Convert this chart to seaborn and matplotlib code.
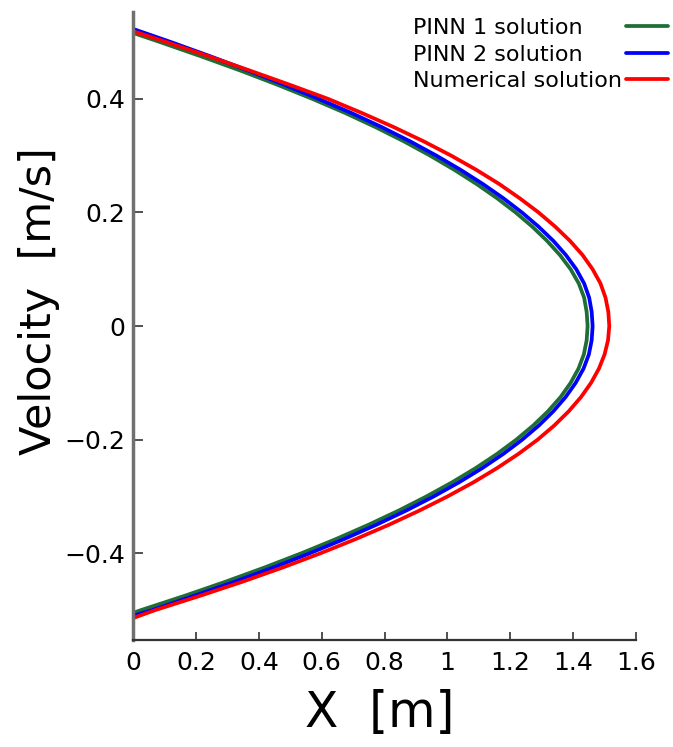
import numpy as np
import pandas as pd
import matplotlib
matplotlib.use('Agg')
import matplotlib.pyplot as plt
import seaborn as sns

# velocity samples (y axis) and X positions (x axis)
vel_pinn1 = [0.516, 0.5, 0.475, 0.45, 0.425, 0.4, 0.375, 0.35, 0.325, 0.3, 0.275,
             0.25, 0.225, 0.2, 0.175, 0.15, 0.125, 0.1, 0.075, 0.05, 0.025, 0.0,
             -0.025, -0.05, -0.075, -0.1, -0.125, -0.15, -0.175, -0.2, -0.225,
             -0.25, -0.275, -0.3, -0.325, -0.35, -0.375, -0.4, -0.425, -0.45,
             -0.475, -0.5, -0.505]
x_pinn1 = [0.0, 0.085, 0.215, 0.34, 0.458, 0.57, 0.675, 0.772, 0.862, 0.945, 1.022,
           1.093, 1.158, 1.217, 1.27, 1.317, 1.358, 1.392, 1.418, 1.435, 1.443, 1.446,
           1.443, 1.434, 1.417, 1.392, 1.36, 1.32, 1.273, 1.219, 1.158,
           1.09, 1.015, 0.933, 0.844, 0.748, 0.645, 0.535, 0.418, 0.294,
           0.163, 0.025, 0.0]

vel_pinn2 = [0.523, 0.5, 0.475, 0.45, 0.425, 0.4, 0.375, 0.35, 0.325, 0.3, 0.275,
             0.25, 0.225, 0.2, 0.175, 0.15, 0.125, 0.1, 0.075, 0.05, 0.025, 0.0,
             -0.025, -0.05, -0.075, -0.1, -0.125, -0.15, -0.175, -0.2, -0.225,
             -0.25, -0.275, -0.3, -0.325, -0.35, -0.375, -0.4, -0.425, -0.45,
             -0.475, -0.5, -0.510]
x_pinn2 = [0.0, 0.12, 0.245, 0.365, 0.48, 0.59, 0.695, 0.792, 0.882, 0.965, 1.042,
           1.113, 1.178, 1.237, 1.29, 1.337, 1.377, 1.41, 1.435, 1.451, 1.459, 1.462,
           1.459, 1.45, 1.433, 1.408, 1.376, 1.337, 1.291, 1.238, 1.178,
           1.111, 1.037, 0.956, 0.868, 0.773, 0.671, 0.562, 0.446, 0.323,
           0.193, 0.06, 0.0]

vel_num = [0.519, 0.5, 0.475, 0.45, 0.425, 0.4, 0.375, 0.35, 0.325, 0.3, 0.275,
           0.25, 0.225, 0.2, 0.175, 0.15, 0.125, 0.1, 0.075, 0.05, 0.025, 0.0,
           -0.025, -0.05, -0.075, -0.1, -0.125, -0.15, -0.175, -0.2, -0.225,
           -0.25, -0.275, -0.3, -0.325, -0.35, -0.375, -0.4, -0.425, -0.45,
           -0.475, -0.5, -0.514]
x_num = [0.0, 0.105, 0.24, 0.37, 0.497, 0.62, 0.728, 0.83, 0.925, 1.012, 1.092,
         1.165, 1.23, 1.29, 1.343, 1.39, 1.43, 1.462, 1.487, 1.503, 1.512, 1.515,
         1.511, 1.50, 1.482, 1.457, 1.425, 1.386, 1.34, 1.287, 1.226,
         1.158, 1.083, 1.0, 0.91, 0.813, 0.708, 0.596, 0.476, 0.348,
         0.212, 0.07, 0.0]

series_names = ['PINN 1 solution', 'PINN 2 solution', 'Numerical solution']
series_colors = ['#1f6e35', '#0000ff', '#ff0000']

x_ticks = [0, 0.2, 0.4, 0.6, 0.8, 1.0, 1.2, 1.4, 1.6]
x_ticklabels = ['0', '0.2', '0.4', '0.6', '0.8', '1', '1.2', '1.4', '1.6']
y_ticks = [-0.4, -0.2, 0, 0.2, 0.4]
y_ticklabels = ['\u22120.4', '\u22120.2', '0', '0.2', '0.4']

frames = []
for name, xs, vs in zip(series_names, [x_pinn1, x_pinn2, x_num],
                        [vel_pinn1, vel_pinn2, vel_num]):
    frames.append(pd.DataFrame({'X': xs, 'Velocity': vs, 'series': name}))
df = pd.concat(frames, ignore_index=True)

sns.set_style('white')
plt.rcParams['font.family'] = ['DejaVu Sans']
plt.rcParams['text.color'] = 'black'
plt.rcParams['axes.labelcolor'] = 'black'

fig = plt.figure(figsize=(6.73, 7.47), dpi=100)
ax = fig.add_axes([0.198, 0.143, 0.747, 0.841])

sns.lineplot(data=df, x='X', y='Velocity', hue='series', hue_order=series_names,
             palette=series_colors, orient='y', estimator=None, linewidth=2.7,
             legend=False, ax=ax)

ax.set_xlim(0, 1.6)
ax.set_ylim(-0.553, 0.553)
ax.set_xticks(x_ticks)
ax.set_xticklabels(x_ticklabels)
ax.set_yticks(y_ticks)
ax.set_yticklabels(y_ticklabels)

for s in ['top', 'right']:
    ax.spines[s].set_visible(False)
ax.spines['left'].set_color('#707070')
ax.spines['left'].set_linewidth(2.5)
ax.spines['bottom'].set_color('#333333')
ax.spines['bottom'].set_linewidth(1.6)

ax.tick_params(axis='x', bottom=True, direction='in', length=6, width=1.2,
               color='#333333', labelsize=18, labelcolor='black', pad=8)
ax.tick_params(axis='y', left=True, direction='in', length=7, width=1.2,
               color='#333333', labelsize=18, labelcolor='black', pad=6)

ax.set_xlabel('X  [m]', fontsize=35)
ax.set_ylabel('Velocity  [m/s]', fontsize=31)
ax.xaxis.set_label_coords(0.49, -0.077)
ax.yaxis.set_label_coords(-0.145, 0.54)

leg = ax.legend(ax.get_lines()[:3], series_names, loc='upper right',
                bbox_to_anchor=(0.993, 0.976), bbox_transform=fig.transFigure,
                frameon=False, markerfirst=False, fontsize=16,
                handlelength=1.9, handletextpad=0.2, labelspacing=0.3,
                borderaxespad=0, borderpad=0)

# keep the label texts left aligned with the handles in one column on the right
fig.canvas.draw()
renderer = fig.canvas.get_renderer()
items = []
for col in leg._legend_handle_box.get_children():
    items.extend(col.get_children())
wmax = max(it.get_bbox(renderer).width for it in items)
for it in items:
    it.mode = 'expand'
    it.width = wmax

fig.savefig('out.png', dpi=100)
